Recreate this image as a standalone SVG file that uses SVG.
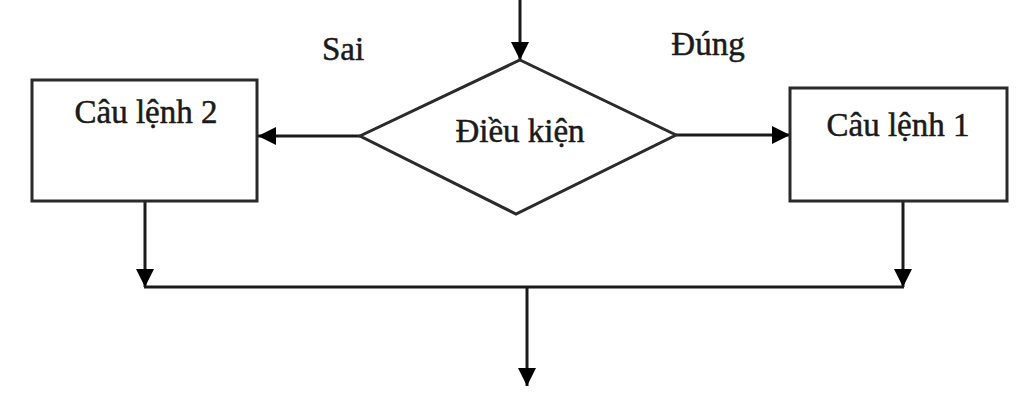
<svg xmlns="http://www.w3.org/2000/svg" width="1024" height="400" viewBox="0 0 1024 400">
<style>
.shape{fill:#fff;stroke:#2a2a2a;stroke-width:3}
.line{fill:none;stroke:#1a1a1a;stroke-width:3}
.lbl{font-family:"Liberation Serif","Times New Roman",serif;font-size:33px;fill:#1a1a1a;stroke:#1a1a1a;stroke-width:0.5}
</style>
<defs>
<marker id="ah" viewBox="0 0 10 10" refX="10" refY="5" markerWidth="22" markerHeight="18" markerUnits="userSpaceOnUse" orient="auto">
<path d="M0,0 L10,5 L0,10 z" fill="#000"/>
</marker>
</defs>
<rect width="1024" height="400" fill="#fff"/>
<g id="connectors">
<line class="line" x1="520" y1="0" x2="520" y2="60" marker-end="url(#ah)"/>
<line class="line" x1="360" y1="136" x2="258" y2="136" marker-end="url(#ah)"/>
<line class="line" x1="676" y1="135" x2="790" y2="135" marker-end="url(#ah)"/>
<line class="line" x1="145" y1="202" x2="145" y2="287" marker-end="url(#ah)"/>
<line class="line" x1="903" y1="202" x2="903" y2="287" marker-end="url(#ah)"/>
<line class="line" x1="144" y1="287" x2="904" y2="287"/>
<line class="line" x1="527" y1="287" x2="527" y2="386" marker-end="url(#ah)"/>
<text class="lbl" x="343" y="60" text-anchor="middle">Sai</text>
<text class="lbl" x="708" y="55" text-anchor="middle">Đúng</text>
</g>
<g id="cau-lenh-2">
<rect class="shape" x="32" y="80" width="225" height="121"/>
<text class="lbl" x="146" y="123" text-anchor="middle">Câu lệnh 2</text>
</g>
<g id="dieu-kien">
<polygon class="shape" points="520,60 676,135 516,214 360,136"/>
<text class="lbl" x="520" y="142" text-anchor="middle">Điều kiện</text>
</g>
<g id="cau-lenh-1">
<rect class="shape" x="790" y="88" width="217" height="113"/>
<text class="lbl" x="898" y="136" text-anchor="middle">Câu lệnh 1</text>
</g>
</svg>
